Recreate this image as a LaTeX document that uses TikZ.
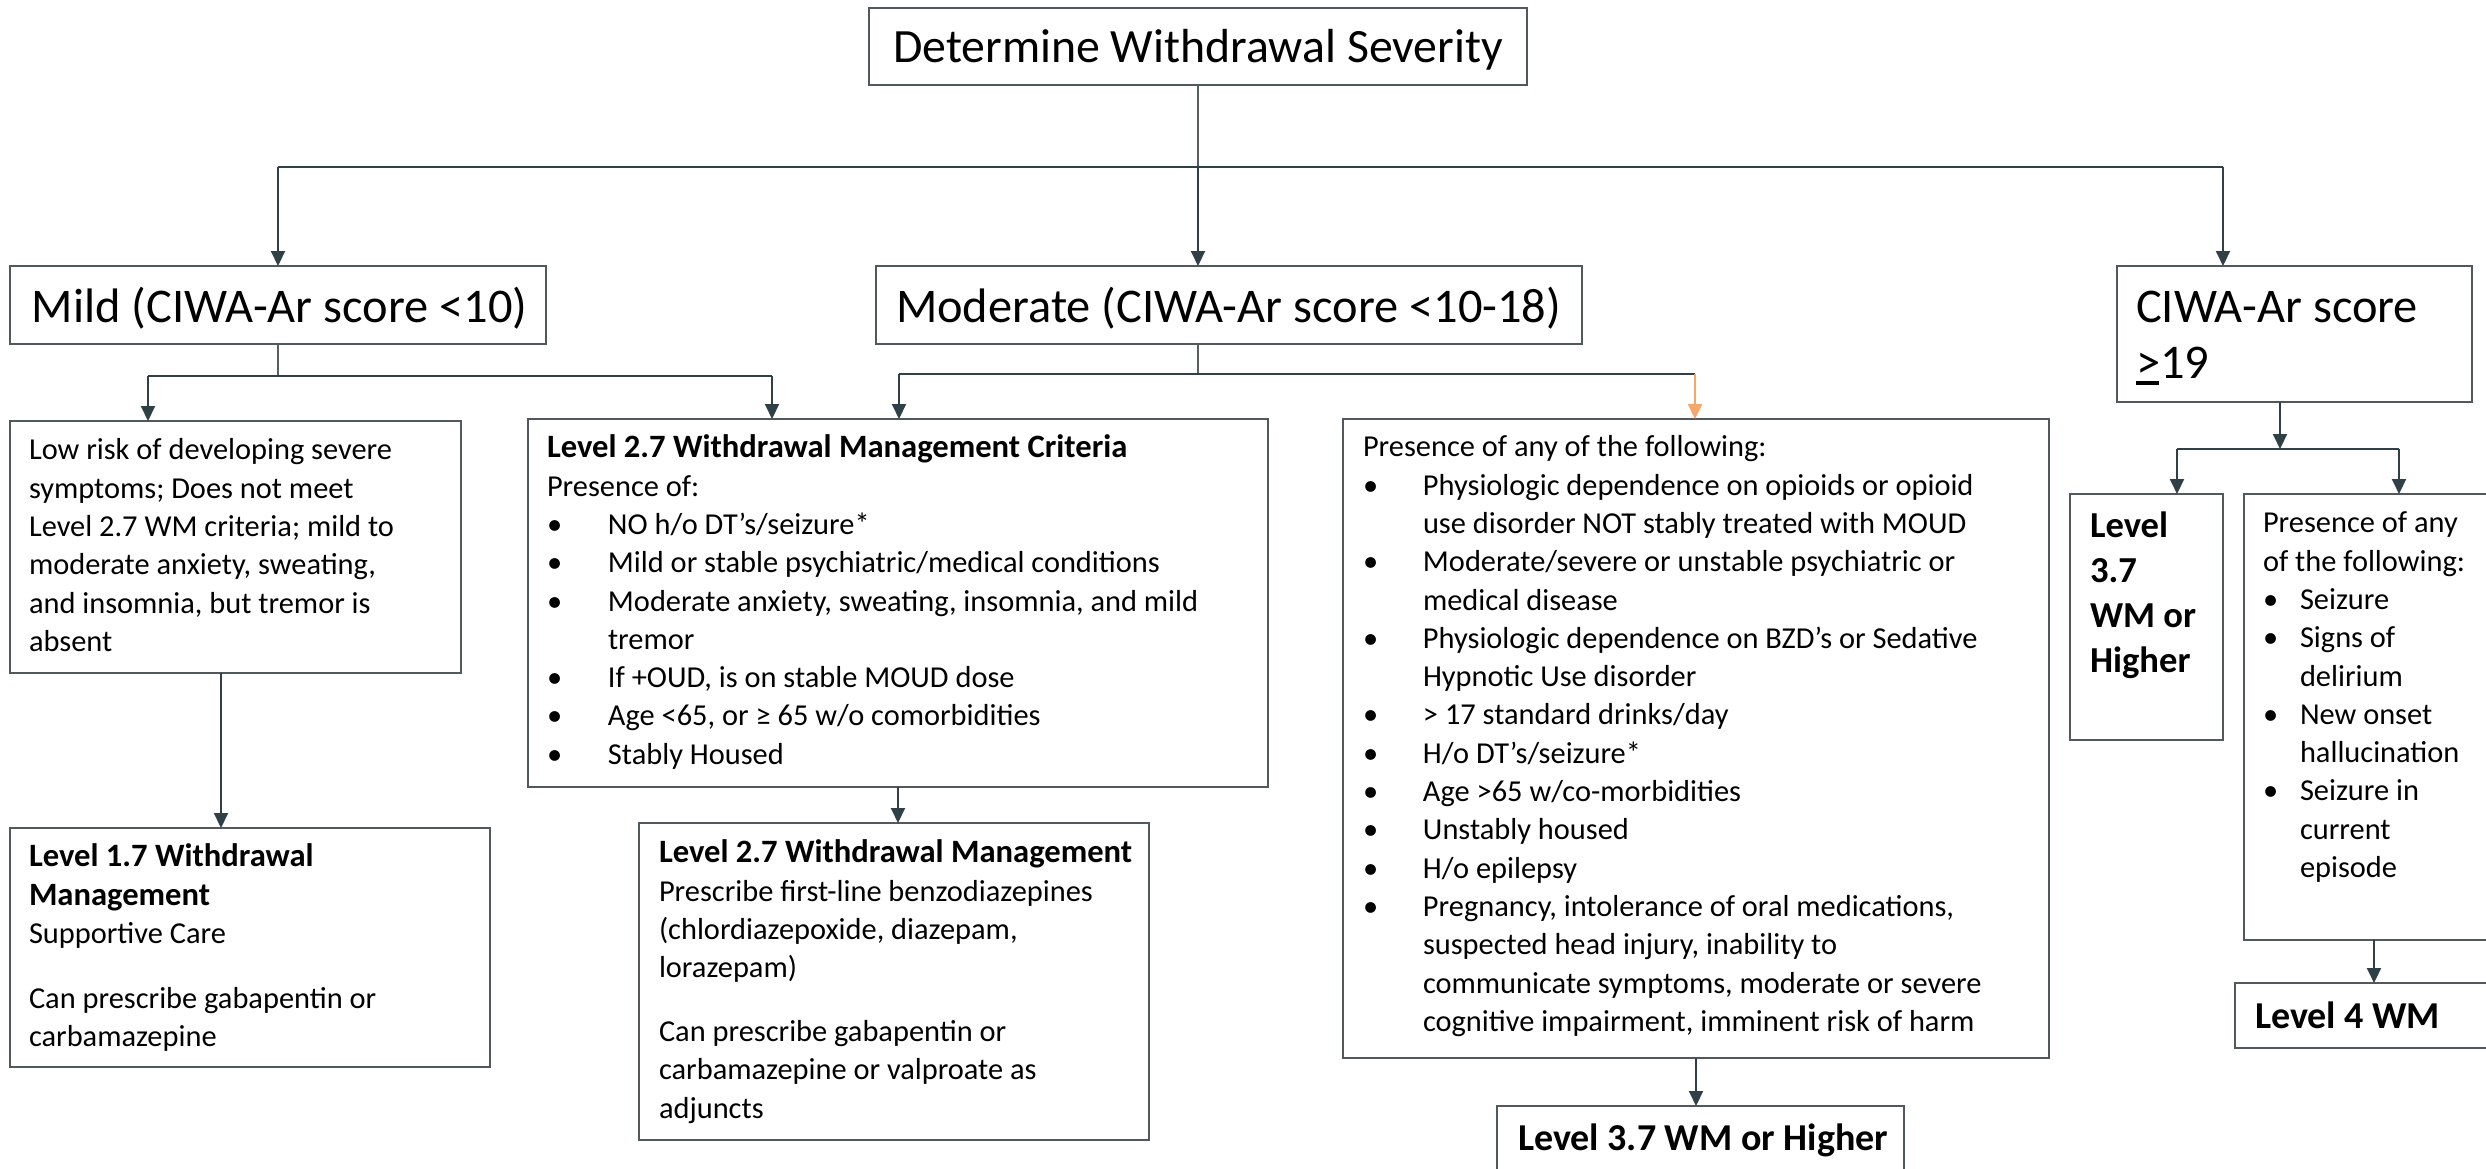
\documentclass[tikz,border=0pt]{standalone}
\usepackage{fontspec}
\setmainfont{Carlito}
\usetikzlibrary{arrows.meta,calc}
\definecolor{lnc}{RGB}{47,64,70}
\definecolor{stemc}{RGB}{85,95,98}
\definecolor{boxc}{RGB}{80,90,93}
\definecolor{orng}{RGB}{247,166,106}
\newcommand\bodyf{\fontsize{15.2}{19.15}\selectfont}
\newcommand\titlef{\fontsize{24.2}{28}\selectfont}
\newcommand\boldf{\fontsize{18.3}{22.5}\selectfont\bfseries}
\newcommand\boldg{\fontsize{19}{22.5}\selectfont\bfseries}
\newcommand\hd[1]{{\fontsize{16.3}{19.15}\selectfont\bfseries #1}}
\newcommand\mybox[5]{\node[box, minimum width={(#4-#2)*0.5pt}, minimum height={(#5-#3)*0.5pt}] (#1) at (#2,#3) {};}
\newcommand\bu[1]{\makebox[#1][l]{•}}
\tikzset{
  box/.style={draw=boxc, line width=0.9pt, anchor=north west, inner sep=0pt, outer sep=0pt},
  txt/.style={anchor=north west, inner sep=0pt, outer sep=0pt, align=left, font=\bodyf},
  lbl/.style={inner sep=0pt, outer sep=0pt, font=\titlef},
  conn/.style={draw=lnc, line width=1pt},
  stem/.style={draw=stemc, line width=0.55pt},
  arr/.style={conn, -{Triangle[length=7.5pt,width=7pt]}},
  arrO/.style={draw=orng, line width=1.2pt, -{Triangle[length=7.5pt,width=7pt]}}
}
\begin{document}
\begin{tikzpicture}[x=0.5pt,y=-0.5pt]
\fill[white] (0,0) rectangle (2486,1168);
\useasboundingbox (0,0) rectangle (2486,1168);
% boxes
\mybox{det}{869}{8}{1527}{85}
\mybox{mild}{10}{266}{546}{344}
\mybox{mod}{876}{266}{1582}{344}
\mybox{ciwa}{2117}{266}{2472}{402}
\mybox{low}{10}{421}{461}{673}
\mybox{crit}{528}{419}{1268}{787}
\mybox{pres}{1343}{419}{2049}{1058}
\mybox{lva}{2070}{494}{2223}{740}
\mybox{rbox}{2244}{494}{2504}{940}
\mybox{lvone}{10}{828}{490}{1067}
\mybox{lvtwo}{639}{823}{1149}{1140}
\mybox{lvb}{1497}{1106}{1904}{1190}
\mybox{lvfour}{2235}{983}{2513}{1048}
% texts
\node[lbl, anchor=base, font=\fontsize{23.9}{28}\selectfont] (tdet) at (1198,62) {Determine Withdrawal Severity};
\node[lbl, anchor=base west] (tmild) at (32,322) {Mild (CIWA-Ar score <10)};
\node[lbl, anchor=base west] (tmod) at (896,322) {Moderate (CIWA-Ar score <10-18)};
\node[lbl, anchor=base west] (tcia) at (2136,322) {CIWA-Ar score};
\node[lbl, anchor=base west] (tcib) at (2136,378) {\makebox[0pt][l]{\rule[-3.5pt]{11.5pt}{2pt}}>19};
\node[txt] (tlow) at (29,433) {\strut Low risk of developing severe\\symptoms; Does not meet\\Level 2.7 WM criteria; mild to\\moderate anxiety, sweating,\\and insomnia, but tremor is\\absent};
\node[txt] (tcrit) at (547,431) {\strut\hd{Level 2.7 Withdrawal Management Criteria}\\Presence of:\\
\bu{30.5pt}NO h/o DT’s/seizure*\\
\bu{30.5pt}Mild or stable psychiatric/medical conditions\\
\bu{30.5pt}Moderate anxiety, sweating, insomnia, and mild\\
\hspace*{30.5pt}tremor\\
\bu{30.5pt}If +OUD, is on stable MOUD dose\\
\bu{30.5pt}Age <65, or ≥ 65 w/o comorbidities\\
\bu{30.5pt}Stably Housed};
\node[txt] (tpres) at (1363,430) {\strut Presence of any of the following:\\
\bu{30pt}Physiologic dependence on opioids or opioid\\
\hspace*{30pt}use disorder NOT stably treated with MOUD\\
\bu{30pt}Moderate/severe or unstable psychiatric or\\
\hspace*{30pt}medical disease\\
\bu{30pt}Physiologic dependence on BZD’s or Sedative\\
\hspace*{30pt}Hypnotic Use disorder\\
\bu{30pt}> 17 standard drinks/day\\
\bu{30pt}H/o DT’s/seizure*\\
\bu{30pt}Age >65 w/co-morbidities\\
\bu{30pt}Unstably housed\\
\bu{30pt}H/o epilepsy\\
\bu{30pt}Pregnancy, intolerance of oral medications,\\
\hspace*{30pt}suspected head injury, inability to\\
\hspace*{30pt}communicate symptoms, moderate or severe\\
\hspace*{30pt}cognitive impairment, imminent risk of harm};
\node[txt] (trbox) at (2263,506) {\strut Presence of any\\of the following:\\
\bu{18.5pt}Seizure\\
\bu{18.5pt}Signs of\\
\hspace*{18.5pt}delirium\\
\bu{18.5pt}New onset\\
\hspace*{18.5pt}hallucination\\
\bu{18.5pt}Seizure in\\
\hspace*{18.5pt}current\\
\hspace*{18.5pt}episode};
\node[txt, font=\boldf] (tlva) at (2090,506) {\strut Level\\3.7\\WM or\\Higher};
\node[txt] (tlvone) at (29,840) {\strut\hd{Level 1.7 Withdrawal}\\\hd{Management}\\Supportive Care\\[13.3pt]Can prescribe gabapentin or\\carbamazepine};
\node[txt] (tlvtwo) at (659,836) {\strut\hd{Level 2.7 Withdrawal Management}\\Prescribe first-line benzodiazepines\\(chlordiazepoxide, diazepam,\\lorazepam)\\[12.8pt]Can prescribe gabapentin or\\carbamazepine or valproate as\\adjuncts};
\node[lbl, font=\boldg, anchor=base west] (tlvb) at (1518,1150) {Level 3.7 WM or Higher};
\node[lbl, font=\boldg, anchor=base west] (tlvfour) at (2255,1028) {Level 4 WM};
% connectors
\coordinate (ba) at (278,167);
\coordinate (bb) at (2223,167);
\draw[stem] (det.south) -- (det.south |- ba);
\draw[conn] (ba) -- (bb);
\draw[arr] (ba) -- (ba |- mild.north);
\draw[arr] (det.south |- ba) -- (det.south |- mod.north);
\draw[arr] (bb) -- (bb |- ciwa.north);
% mild split
\coordinate (ma) at (148,376);
\coordinate (mb) at (772,376);
\draw[stem] (mild.south) -- (mild.south |- ma);
\draw[conn] (ma) -- (mb);
\draw[arr] (ma) -- (ma |- low.north);
\draw[arr] (mb) -- (mb |- crit.north);
% moderate split
\coordinate (na) at (899,374);
\coordinate (nb) at (1695,374);
\draw[stem] (mod.south -| det.south) -- (det.south |- na);
\draw[conn] (na) -- (nb);
\draw[arr] (na) -- (na |- crit.north);
\draw[arrO] (nb) -- (nb |- pres.north);
% downward links
\coordinate (lx) at (221,700);
\draw[arr] (low.south -| lx) -- (lvone.north -| lx);
\draw[arr] (crit.south) -- (crit.south |- lvtwo.north);
\draw[arr] (pres.south) -- (pres.south |- lvb.north);
% ciwa split
\coordinate (cx) at (2280,420);
\coordinate (ca) at (2177,449);
\coordinate (cb) at (2399,449);
\draw[arr] (ciwa.south -| cx) -- (ca -| cx);
\draw[conn] (ca) -- (cb);
\draw[arr] (ca) -- (ca |- lva.north);
\draw[arr] (cb) -- (cb |- rbox.north);
\draw[arr] (rbox.south) -- (rbox.south |- lvfour.north);
\end{tikzpicture}
\end{document}
